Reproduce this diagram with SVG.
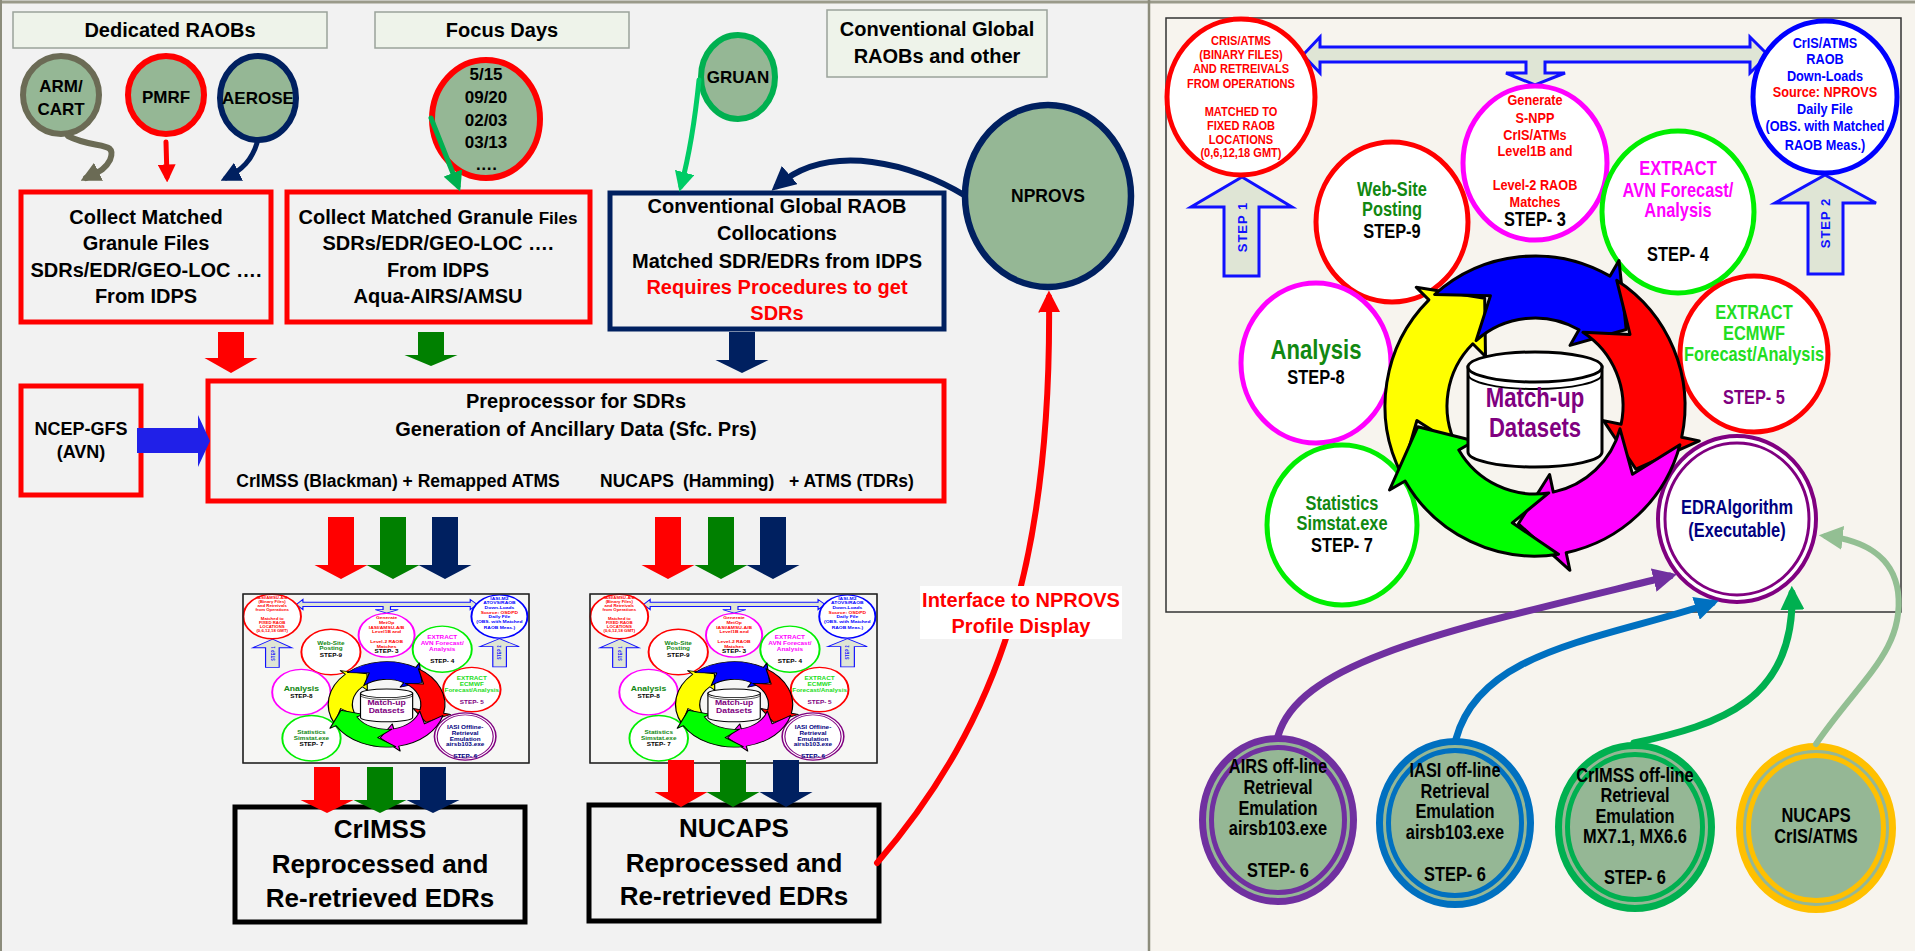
<svg xmlns="http://www.w3.org/2000/svg" xmlns:xlink="http://www.w3.org/1999/xlink" width="1915" height="951" viewBox="0 0 1915 951">
<style>
.t{font-family:"Liberation Sans",Arial,sans-serif;font-weight:bold;text-anchor:middle;fill:#000}
.s{font-family:"Liberation Sans",Arial,sans-serif;font-weight:bold;text-anchor:start;fill:#000}
.hdr{fill:#eef3ea;stroke:#9aa39a;stroke-width:1.5}
.sage{fill:#95b795}
.rbox{fill:none;stroke:#ff0000;stroke-width:5}
.ell{fill:#ffffff;stroke-width:5}
.ring{stroke:#000;stroke-width:3;stroke-linejoin:round}
.stepArr{fill:#dfe5d5;stroke:#1010ff;stroke-width:3;stroke-linejoin:miter}
.conn{fill:none;stroke-linecap:round}
</style>
<defs>
<marker id="m-gray" viewBox="0 0 10 10" refX="7" refY="5" markerWidth="20" markerHeight="20" markerUnits="userSpaceOnUse" orient="auto"><path d="M0,0 L10,5 L0,10 z" fill="#6b6b55"/></marker>
<marker id="m-red" viewBox="0 0 10 10" refX="7" refY="5" markerWidth="18" markerHeight="18" markerUnits="userSpaceOnUse" orient="auto"><path d="M0,0 L10,5 L0,10 z" fill="#ff0000"/></marker>
<marker id="m-red2" viewBox="0 0 10 10" refX="7" refY="5" markerWidth="22" markerHeight="22" markerUnits="userSpaceOnUse" orient="auto"><path d="M0,0 L10,5 L0,10 z" fill="#ff0000"/></marker>
<marker id="m-navy" viewBox="0 0 10 10" refX="7" refY="5" markerWidth="20" markerHeight="20" markerUnits="userSpaceOnUse" orient="auto"><path d="M0,0 L10,5 L0,10 z" fill="#002060"/></marker>
<marker id="m-navy2" viewBox="0 0 10 10" refX="7" refY="5" markerWidth="24" markerHeight="24" markerUnits="userSpaceOnUse" orient="auto"><path d="M0,0 L10,5 L0,10 z" fill="#002060"/></marker>
<marker id="m-green" viewBox="0 0 10 10" refX="7" refY="5" markerWidth="20" markerHeight="20" markerUnits="userSpaceOnUse" orient="auto"><path d="M0,0 L10,5 L0,10 z" fill="#00b050"/></marker>
<marker id="m-lgreen" viewBox="0 0 10 10" refX="7" refY="5" markerWidth="20" markerHeight="20" markerUnits="userSpaceOnUse" orient="auto"><path d="M0,0 L10,5 L0,10 z" fill="#00cc66"/></marker>
<marker id="m-green2" viewBox="0 0 10 10" refX="7" refY="5" markerWidth="24" markerHeight="24" markerUnits="userSpaceOnUse" orient="auto"><path d="M0,0 L10,5 L0,10 z" fill="#00b050"/></marker>
<marker id="m-purple" viewBox="0 0 10 10" refX="7" refY="5" markerWidth="24" markerHeight="24" markerUnits="userSpaceOnUse" orient="auto"><path d="M0,0 L10,5 L0,10 z" fill="#7030a0"/></marker>
<marker id="m-blue" viewBox="0 0 10 10" refX="7" refY="5" markerWidth="24" markerHeight="24" markerUnits="userSpaceOnUse" orient="auto"><path d="M0,0 L10,5 L0,10 z" fill="#0070c0"/></marker>
<marker id="m-sage" viewBox="0 0 10 10" refX="7" refY="5" markerWidth="24" markerHeight="24" markerUnits="userSpaceOnUse" orient="auto"><path d="M0,0 L10,5 L0,10 z" fill="#93bf93"/></marker>
</defs>

<!-- backgrounds -->
<rect x="0" y="0" width="1150" height="951" fill="#f2f2f2"/>
<rect x="1150" y="0" width="765" height="951" fill="#f7f4ee"/>
<line x1="0" y1="2" x2="1915" y2="2" stroke="#9a9a8a" stroke-width="3"/>
<line x1="1" y1="0" x2="1" y2="951" stroke="#8c8c7c" stroke-width="2"/>
<line x1="1149" y1="0" x2="1149" y2="951" stroke="#8c8c7c" stroke-width="2.5"/>

<!-- ===== LEFT PANEL ===== -->
<g id="hdr-dedicated"><rect x="13" y="12" width="314" height="36" class="hdr"/><text x="170" y="37" class="t" font-size="20">Dedicated RAOBs</text></g>
<g id="hdr-focus"><rect x="375" y="12" width="254" height="36" class="hdr"/><text x="502" y="37" class="t" font-size="20">Focus Days</text></g>
<g id="hdr-conv"><rect x="827" y="10" width="220" height="67" class="hdr"/><text class="t" font-size="20"><tspan x="937" y="36">Conventional Global</tspan><tspan x="937" y="63">RAOBs and other</tspan></text></g>

<g id="armcart"><ellipse cx="61" cy="95" rx="38" ry="39" class="sage" stroke="#6b6b55" stroke-width="6"/><text class="t" font-size="17"><tspan x="61" y="92">ARM/</tspan><tspan x="61" y="115">CART</tspan></text></g>
<g id="pmrf"><ellipse cx="166" cy="95" rx="38" ry="39" class="sage" stroke="#ff0000" stroke-width="6"/><text x="166" y="103" class="t" font-size="17">PMRF</text></g>
<g id="aerose"><ellipse cx="258" cy="98" rx="38" ry="42" class="sage" stroke="#002060" stroke-width="6"/><text x="258" y="104" class="t" font-size="17">AEROSE</text></g>
<g id="focusdays"><ellipse cx="486" cy="119" rx="54" ry="59" class="sage" stroke="#ff0000" stroke-width="6"/><text class="t" font-size="17"><tspan x="486" y="80">5/15</tspan><tspan x="486" y="103">09/20</tspan><tspan x="486" y="126">02/03</tspan><tspan x="486" y="148">03/13</tspan><tspan x="486" y="170">….</tspan></text></g>
<g id="gruan"><ellipse cx="738" cy="77" rx="37" ry="42" class="sage" stroke="#00b050" stroke-width="6"/><text x="738" y="83" class="t" font-size="17">GRUAN</text></g>
<g id="nprovs"><ellipse cx="1048" cy="196" rx="83" ry="91" class="sage" stroke="#002060" stroke-width="6.5"/><text x="1048" y="202" class="t" font-size="17.5">NPROVS</text></g>

<g id="collect1"><rect x="21" y="192" width="250" height="130" class="rbox"/><text class="t" font-size="20"><tspan x="146" y="224">Collect Matched</tspan><tspan x="146" y="250">Granule Files</tspan><tspan x="146" y="277">SDRs/EDR/GEO-LOC ….</tspan><tspan x="146" y="303">From IDPS</tspan></text></g>
<g id="collect2"><rect x="287" y="192" width="303" height="130" class="rbox"/><text class="t" font-size="20"><tspan x="438" y="224">Collect Matched Granule <tspan font-size="17">Files</tspan></tspan><tspan x="438" y="250">SDRs/EDR/GEO-LOC ….</tspan><tspan x="438" y="277">From IDPS</tspan><tspan x="438" y="303">Aqua-AIRS/AMSU</tspan></text></g>
<g id="conventional"><rect x="610" y="193" width="334" height="136" fill="none" stroke="#002060" stroke-width="5"/><text class="t" font-size="20"><tspan x="777" y="213">Conventional Global RAOB</tspan><tspan x="777" y="240">Collocations</tspan><tspan x="777" y="268">Matched SDR/EDRs from IDPS</tspan><tspan x="777" y="294" fill="#ff0000">Requires Procedures to get</tspan><tspan x="777" y="320" fill="#ff0000">SDRs</tspan></text></g>

<g id="ncep"><rect x="21" y="386" width="120" height="109" class="rbox"/><text class="t" font-size="18"><tspan x="81" y="435">NCEP-GFS</tspan><tspan x="81" y="458">(AVN)</tspan></text></g>
<g id="preproc"><rect x="208" y="381" width="736" height="120" class="rbox"/><text class="t" font-size="20"><tspan x="576" y="408">Preprocessor for SDRs</tspan><tspan x="576" y="436">Generation of Ancillary Data (Sfc. Prs)</tspan></text><text x="398" y="487" class="t" font-size="17.5">CrIMSS (Blackman) + Remapped ATMS</text><text class="s" font-size="17.5"><tspan x="600" y="487">NUCAPS</tspan><tspan x="683" y="487">(Hamming)</tspan><tspan x="789" y="487">+ ATMS (TDRs)</tspan></text></g>

<g id="crimss-out"><rect x="235" y="807" width="290" height="115" fill="#f2f2f2" stroke="#000" stroke-width="5"/><text class="t" font-size="26"><tspan x="380" y="838">CrIMSS</tspan><tspan x="380" y="873">Reprocessed and</tspan><tspan x="380" y="907">Re-retrieved EDRs</tspan></text></g>
<g id="nucaps-out"><rect x="589" y="805" width="290" height="116" fill="#f2f2f2" stroke="#000" stroke-width="5"/><text class="t" font-size="26"><tspan x="734" y="837">NUCAPS</tspan><tspan x="734" y="872">Reprocessed and</tspan><tspan x="734" y="905">Re-retrieved EDRs</tspan></text></g>

<!-- ===== RIGHT PANEL: cycle ===== -->
<g id="cycle-common">
  <rect x="1166" y="18" width="735" height="594" fill="none" stroke="#333" stroke-width="1.5"/>
  <g id="dbl-arrow"><path class="stepArr" d="M1303,55 L1320,37 L1320,47 L1750,47 L1750,37 L1768,55 L1750,73 L1750,62 L1545,62 L1545,73 L1565,73 L1535,85 L1506,73 L1526,73 L1526,62 L1320,62 L1320,73 Z"/></g>
  <g id="step1-arrow"><path class="stepArr" d="M1242,177 L1292,207 L1259,207 L1259,276 L1224,276 L1224,207 L1191,207 Z"/><text transform="translate(1247,227) rotate(-90)" class="t" font-size="13" letter-spacing="1" style="fill:#1010ff">STEP 1</text></g>
  <g id="step2-arrow"><path class="stepArr" d="M1825,175 L1876,203 L1843,203 L1843,274 L1808,274 L1808,203 L1775,203 Z"/><text transform="translate(1830,223) rotate(-90)" class="t" font-size="13" letter-spacing="1" style="fill:#1010ff">STEP 2</text></g>
  <g id="src-ops"><ellipse cx="1241" cy="97" rx="74" ry="78" class="ell" stroke="#ff0000"/></g>
  <g id="src-raob"><ellipse cx="1825" cy="97" rx="72" ry="76" class="ell" stroke="#0000ff"/></g>
  <g id="step3"><ellipse cx="1535" cy="163" rx="72" ry="77" class="ell" stroke="#ff00ff"/></g>
  <g id="step9"><ellipse cx="1392" cy="222" rx="76" ry="80" class="ell" stroke="#ff0000"/><text class="t" font-size="20" transform="matrix(0.82 0 0 1 250.56 0)"><tspan x="1392" y="196" style="fill:#118811">Web-Site</tspan><tspan x="1392" y="216" style="fill:#118811">Posting</tspan><tspan x="1392" y="238">STEP-9</tspan></text></g>
  <g id="step4"><ellipse cx="1678" cy="212" rx="76" ry="81" class="ell" stroke="#00ee00"/><text class="t" font-size="20" transform="matrix(0.82 0 0 1 302.04 0)"><tspan x="1678" y="175" style="fill:#ff00ff">EXTRACT</tspan><tspan x="1678" y="197" style="fill:#ff00ff">AVN Forecast/</tspan><tspan x="1678" y="217" style="fill:#ff00ff">Analysis</tspan><tspan x="1678" y="261">STEP- 4</tspan></text></g>
  <g id="step5"><ellipse cx="1754" cy="354" rx="74" ry="78" class="ell" stroke="#ff0000"/><text class="t" font-size="20" transform="matrix(0.82 0 0 1 315.72 0)"><tspan x="1754" y="319" style="fill:#22dd22">EXTRACT</tspan><tspan x="1754" y="340" style="fill:#22dd22">ECMWF</tspan><tspan x="1754" y="361" style="fill:#22dd22">Forecast/Analysis</tspan><tspan x="1754" y="404" style="fill:#800080">STEP- 5</tspan></text></g>
  <g id="step8"><ellipse cx="1316" cy="363" rx="75" ry="80" class="ell" stroke="#ff00ff"/><text class="t" transform="matrix(0.82 0 0 1 236.88 0)"><tspan x="1316" y="359" font-size="27" style="fill:#118811">Analysis</tspan><tspan x="1316" y="384" font-size="20">STEP-8</tspan></text></g>
  <g id="step7"><ellipse cx="1342" cy="525" rx="75" ry="80" class="ell" stroke="#00ee00"/><text class="t" font-size="20" transform="matrix(0.82 0 0 1 241.56 0)"><tspan x="1342" y="510" style="fill:#118811">Statistics</tspan><tspan x="1342" y="530" style="fill:#118811">Simstat.exe</tspan><tspan x="1342" y="552">STEP- 7</tspan></text></g>
  <g id="step6-edr"><ellipse cx="1737" cy="519" rx="79" ry="83" fill="#fff" stroke="#800080" stroke-width="4"/><ellipse cx="1737" cy="519" rx="72" ry="76" fill="none" stroke="#800080" stroke-width="3"/></g>
  <g id="cycle-ring">
    <path class="ring" fill="#ffff00" d="M1401.4,474.1 A150,150 0 0 1 1428.9,299.9 L1416.2,287.2 L1484.7,298.2 L1485.5,356.5 L1472.8,343.8 A88,88 0 0 0 1456.6,446.0 L1416.9,420.5 Z"/>
    <path class="ring" fill="#0000ff" d="M1434.6,294.5 A150,150 0 0 1 1610,276.1 L1619,260.5 L1626.2,329.5 L1570,345.4 L1579,329.8 A88,88 0 0 0 1476.1,340.6 L1490.4,295.7 Z"/>
    <path class="ring" fill="#ff0000" d="M1616.7,280.2 A150,150 0 0 1 1681.7,437.2 L1699.3,440.9 L1635.9,469.1 L1603.5,420.6 L1621.1,424.3 A88,88 0 0 0 1582.9,332.2 L1630,334.4 Z"/>
    <path class="ring" fill="#ff00ff" d="M1679.9,444.8 A150,150 0 0 1 1566.2,552.7 L1569.9,570.3 L1518.4,523.8 L1549.6,474.5 L1553.3,492.1 A88,88 0 0 0 1620,428.8 L1632.5,474.3 Z"/>
    <path class="ring" fill="#00ff00" d="M1558.5,554.2 A150,150 0 0 1 1405.1,481 L1389.5,490 L1417.8,426.7 L1474.4,441 L1458.8,450 A88,88 0 0 0 1548.8,492.9 L1512.3,522.8 Z"/>
  </g>
  <g id="matchup-db">
    <path d="M1468,367 L1468,452 A67,15 0 0 0 1602,452 L1602,367 Z" fill="#fff" stroke="#000" stroke-width="3"/>
    <ellipse cx="1535" cy="367" rx="67" ry="15" fill="#fff" stroke="#000" stroke-width="3"/>
    <path d="M1468,374 A67,15 0 0 0 1602,374" fill="none" stroke="#000" stroke-width="2"/>
    <text class="t" font-size="27" transform="matrix(0.82 0 0 1 276.3 0)"><tspan x="1535" y="407" style="fill:#800080">Match-up</tspan><tspan x="1535" y="437" style="fill:#800080">Datasets</tspan></text>
  </g>
</g>

<!-- main right panel specific texts -->
<g id="src-ops-text"><text class="t" font-size="13.5" transform="matrix(0.82 0 0 1 223.38 0)" style="fill:#ff0000"><tspan x="1241" y="45">CRIS/ATMS</tspan><tspan x="1241" y="59">(BINARY FILES)</tspan><tspan x="1241" y="73">AND RETREIVALS</tspan><tspan x="1241" y="88">FROM OPERATIONS</tspan><tspan x="1241" y="116">MATCHED TO</tspan><tspan x="1241" y="130">FIXED RAOB</tspan><tspan x="1241" y="144">LOCATIONS</tspan><tspan x="1241" y="157">(0,6,12,18 GMT)</tspan></text></g>
<g id="src-raob-text"><text class="t" font-size="15.5" transform="matrix(0.82 0 0 1 328.5 0)" style="fill:#0000ff"><tspan x="1825" y="48">CrIS/ATMS</tspan><tspan x="1825" y="64">RAOB</tspan><tspan x="1825" y="81">Down-Loads</tspan><tspan x="1825" y="97" style="fill:#ff0000">Source: NPROVS</tspan><tspan x="1825" y="114">Daily File</tspan><tspan x="1825" y="131">(OBS. with Matched</tspan><tspan x="1825" y="150">RAOB Meas.)</tspan></text></g>
<g id="step3-text"><text class="t" font-size="15.5" transform="matrix(0.82 0 0 1 276.3 0)" style="fill:#ff0000"><tspan x="1535" y="105">Generate</tspan><tspan x="1535" y="123">S-NPP</tspan><tspan x="1535" y="140">CrIS/ATMs</tspan><tspan x="1535" y="156">Level1B and</tspan><tspan x="1535" y="190">Level-2 RAOB</tspan><tspan x="1535" y="207">Matches</tspan><tspan x="1535" y="226" font-size="20" style="fill:#000">STEP- 3</tspan></text></g>
<g id="edr-text"><text class="t" font-size="20" transform="matrix(0.82 0 0 1 312.66 0)" style="fill:#000080"><tspan x="1737" y="514">EDRAlgorithm</tspan><tspan x="1737" y="537">(Executable)</tspan></text></g>

<!-- lower right nodes -->
<g id="airs"><ellipse cx="1278" cy="820" rx="75.5" ry="81.5" class="sage" stroke="#7030a0" stroke-width="7"/><ellipse cx="1278" cy="820" rx="66.5" ry="72.5" fill="none" stroke="#7030a0" stroke-width="5"/><text class="t" font-size="20" transform="matrix(0.82 0 0 1 230.04 0)"><tspan x="1278" y="773">AIRS off-line</tspan><tspan x="1278" y="794">Retrieval</tspan><tspan x="1278" y="815">Emulation</tspan><tspan x="1278" y="835">airsb103.exe</tspan><tspan x="1278" y="877">STEP- 6</tspan></text></g>
<g id="iasi"><ellipse cx="1455" cy="823" rx="75.5" ry="81.5" class="sage" stroke="#0070c0" stroke-width="7"/><ellipse cx="1455" cy="823" rx="66.5" ry="72.5" fill="none" stroke="#0070c0" stroke-width="5"/><text class="t" font-size="20" transform="matrix(0.82 0 0 1 261.9 0)"><tspan x="1455" y="777">IASI off-line</tspan><tspan x="1455" y="798">Retrieval</tspan><tspan x="1455" y="818">Emulation</tspan><tspan x="1455" y="839">airsb103.exe</tspan><tspan x="1455" y="881">STEP- 6</tspan></text></g>
<g id="crimss"><ellipse cx="1635" cy="827" rx="76.5" ry="81.5" class="sage" stroke="#00b050" stroke-width="7"/><ellipse cx="1635" cy="827" rx="67.5" ry="72.5" fill="none" stroke="#00b050" stroke-width="5"/><text class="t" font-size="20" transform="matrix(0.82 0 0 1 294.3 0)"><tspan x="1635" y="782">CrIMSS off-line</tspan><tspan x="1635" y="802">Retrieval</tspan><tspan x="1635" y="823">Emulation</tspan><tspan x="1635" y="843">MX7.1, MX6.6</tspan><tspan x="1635" y="884">STEP- 6</tspan></text></g>
<g id="nucaps"><ellipse cx="1816" cy="828" rx="76.5" ry="81.5" class="sage" stroke="#ffc000" stroke-width="7"/><ellipse cx="1816" cy="828" rx="67.5" ry="72.5" fill="none" stroke="#ffc000" stroke-width="5"/><text class="t" font-size="20" transform="matrix(0.82 0 0 1 326.88 0)"><tspan x="1816" y="822">NUCAPS</tspan><tspan x="1816" y="843">CrIS/ATMS</tspan></text></g>

<!-- thumbnails -->
<g id="thumb-crimss">
  <rect x="243" y="594" width="286" height="169" fill="#f6f6f4"/>
  <g transform="translate(243,594) scale(0.3891,0.2845) translate(-1166,-18)">
    <use xlink:href="#cycle-common" href="#cycle-common"/>
    <text class="t" font-size="13.5" transform="matrix(0.82 0 0 1 223.38 0)" style="fill:#ff0000"><tspan x="1241" y="37">IASI/AMSU-A/B</tspan><tspan x="1241" y="51">(Binary Files)</tspan><tspan x="1241" y="65">and Retreivals</tspan><tspan x="1241" y="79">from Operations</tspan><tspan x="1241" y="109">Matched to</tspan><tspan x="1241" y="123">FIXED RAOB</tspan><tspan x="1241" y="137">LOCATIONS</tspan><tspan x="1241" y="151">(0,6,12,18 GMT)</tspan></text>
    <text class="t" font-size="15.5" transform="matrix(0.82 0 0 1 328.5 0)" style="fill:#0000ff"><tspan x="1825" y="38">IASI-M2</tspan><tspan x="1825" y="54">ATOVS/RAOB</tspan><tspan x="1825" y="71">Down-Loads</tspan><tspan x="1825" y="87" style="fill:#ff0000">Source: OSDPD</tspan><tspan x="1825" y="104">Daily File</tspan><tspan x="1825" y="121">(OBS. with Matched</tspan><tspan x="1825" y="140">RAOB Meas.)</tspan></text>
    <text class="t" font-size="15.5" transform="matrix(0.82 0 0 1 276.3 0)" style="fill:#ff0000"><tspan x="1535" y="105">Generate</tspan><tspan x="1535" y="123">MetOp</tspan><tspan x="1535" y="140">IASI/AMSU-A/B</tspan><tspan x="1535" y="156">Level1B and</tspan><tspan x="1535" y="190">Level-2 RAOB</tspan><tspan x="1535" y="207">Matches</tspan><tspan x="1535" y="226" font-size="20" style="fill:#000">STEP- 3</tspan></text>
    <text class="t" font-size="20" transform="matrix(0.82 0 0 1 312.66 0)" style="fill:#000080"><tspan x="1737" y="492">IASI Offline-</tspan><tspan x="1737" y="512">Retrieval</tspan><tspan x="1737" y="533">Emulation</tspan><tspan x="1737" y="554">airsb103.exe</tspan><tspan x="1737" y="593">STEP- 6</tspan></text>
  </g>
  <rect x="243" y="594" width="286" height="169" fill="none" stroke="#222" stroke-width="1.5"/>
</g>
<g id="thumb-nucaps">
  <rect x="590" y="594" width="287" height="169" fill="#f6f6f4"/>
  <g transform="translate(590,594) scale(0.3905,0.2845) translate(-1166,-18)">
    <use xlink:href="#cycle-common" href="#cycle-common"/>
    <text class="t" font-size="13.5" transform="matrix(0.82 0 0 1 223.38 0)" style="fill:#ff0000"><tspan x="1241" y="37">IASI/AMSU-A/B</tspan><tspan x="1241" y="51">(Binary Files)</tspan><tspan x="1241" y="65">and Retreivals</tspan><tspan x="1241" y="79">from Operations</tspan><tspan x="1241" y="109">Matched to</tspan><tspan x="1241" y="123">FIXED RAOB</tspan><tspan x="1241" y="137">LOCATIONS</tspan><tspan x="1241" y="151">(0,6,12,18 GMT)</tspan></text>
    <text class="t" font-size="15.5" transform="matrix(0.82 0 0 1 328.5 0)" style="fill:#0000ff"><tspan x="1825" y="38">IASI-M2</tspan><tspan x="1825" y="54">ATOVS/RAOB</tspan><tspan x="1825" y="71">Down-Loads</tspan><tspan x="1825" y="87" style="fill:#ff0000">Source: OSDPD</tspan><tspan x="1825" y="104">Daily File</tspan><tspan x="1825" y="121">(OBS. with Matched</tspan><tspan x="1825" y="140">RAOB Meas.)</tspan></text>
    <text class="t" font-size="15.5" transform="matrix(0.82 0 0 1 276.3 0)" style="fill:#ff0000"><tspan x="1535" y="105">Generate</tspan><tspan x="1535" y="123">MetOp</tspan><tspan x="1535" y="140">IASI/AMSU-A/B</tspan><tspan x="1535" y="156">Level1B and</tspan><tspan x="1535" y="190">Level-2 RAOB</tspan><tspan x="1535" y="207">Matches</tspan><tspan x="1535" y="226" font-size="20" style="fill:#000">STEP- 3</tspan></text>
    <text class="t" font-size="20" transform="matrix(0.82 0 0 1 312.66 0)" style="fill:#000080"><tspan x="1737" y="492">IASI Offline-</tspan><tspan x="1737" y="512">Retrieval</tspan><tspan x="1737" y="533">Emulation</tspan><tspan x="1737" y="554">airsb103.exe</tspan><tspan x="1737" y="593">STEP- 6</tspan></text>
  </g>
  <rect x="590" y="594" width="287" height="169" fill="none" stroke="#222" stroke-width="1.5"/>
</g>

<!-- ===== CONNECTORS ===== -->
<g id="connectors">
  <path class="conn" d="M68,136 C 95,150 118,140 110,160 C 105,170 98,172 86,178" stroke="#6b6b55" stroke-width="6" marker-end="url(#m-gray)"/>
  <path class="conn" d="M166,142 L167,177" stroke="#ff0000" stroke-width="5" marker-end="url(#m-red)"/>
  <path class="conn" d="M257,143 C 252,160 242,170 226,178" stroke="#002060" stroke-width="5" marker-end="url(#m-navy)"/>
  <path class="conn" d="M431,118 L458,186" stroke="#00b050" stroke-width="5" marker-end="url(#m-green)"/>
  <path class="conn" d="M699,80 C 694,130 688,160 681,186" stroke="#00cc66" stroke-width="5" marker-end="url(#m-lgreen)"/>
  <path class="conn" d="M964,195 C 915,165 830,140 777,186" stroke="#002060" stroke-width="6" marker-end="url(#m-navy2)"/>
  <path class="conn" d="M877,863 C 1000,720 1052,560 1049,297" stroke="#ff0000" stroke-width="6" marker-end="url(#m-red2)"/>
  <path d="M137,428 L198,428 L198,415 L210,441 L198,467 L198,453 L137,453 Z" fill="#2020e8"/>
  <!-- block arrows top -->
  <path d="M218,332 H244 V358 H257.5 L231,373 L204.5,358 H218 Z" fill="#ff0000"/>
  <path d="M418,332 H444 V355 H457.5 L431,366 L404.5,355 H418 Z" fill="#008000"/>
  <path d="M729,332 H755 V360 H768.5 L742,373 L715.5,360 H729 Z" fill="#002060"/>
  <!-- block arrows middle -->
  <path d="M328,517 H354 V565 H367.5 L341,579 L314.5,565 H328 Z" fill="#ff0000"/>
  <path d="M380,517 H406 V565 H419.5 L393,579 L366.5,565 H380 Z" fill="#008000"/>
  <path d="M432,517 H458 V565 H471.5 L445,579 L418.5,565 H432 Z" fill="#002060"/>
  <path d="M655,517 H681 V565 H694.5 L668,579 L641.5,565 H655 Z" fill="#ff0000"/>
  <path d="M708,517 H734 V565 H747.5 L721,579 L694.5,565 H708 Z" fill="#008000"/>
  <path d="M760,517 H786 V565 H799.5 L773,579 L746.5,565 H760 Z" fill="#002060"/>
  <!-- block arrows bottom -->
  <path d="M314,767 H340 V800 H353.5 L327,813 L300.5,800 H314 Z" fill="#ff0000"/>
  <path d="M367,767 H393 V800 H406.5 L380,813 L353.5,800 H367 Z" fill="#008000"/>
  <path d="M420,767 H446 V800 H459.5 L433,813 L406.5,800 H420 Z" fill="#002060"/>
  <path d="M668,760 H694 V792 H707.5 L681,807 L654.5,792 H668 Z" fill="#ff0000"/>
  <path d="M720,760 H746 V792 H759.5 L733,807 L706.5,792 H720 Z" fill="#008000"/>
  <path d="M773,760 H799 V792 H812.5 L786,807 L759.5,792 H773 Z" fill="#002060"/>
  <!-- right lower curves -->
  <path class="conn" d="M1278,736 C 1300,660 1450,630 1670,576" stroke="#7030a0" stroke-width="7" marker-end="url(#m-purple)"/>
  <path class="conn" d="M1456,739 C 1480,650 1600,640 1712,603" stroke="#0070c0" stroke-width="7" marker-end="url(#m-blue)"/>
  <path class="conn" d="M1634,743 C 1720,725 1795,700 1792,593" stroke="#00b050" stroke-width="7" marker-end="url(#m-green2)"/>
  <path class="conn" d="M1816,744 C 1860,680 1905,650 1898,592 C 1893,555 1862,540 1826,536" stroke="#93bf93" stroke-width="6" marker-end="url(#m-sage)"/>
</g>

<g id="interface-label"><rect x="920" y="586" width="202" height="53" fill="#ffffff"/><text class="t" font-size="20" style="fill:#ff0000"><tspan x="1021" y="607">Interface to NPROVS</tspan><tspan x="1021" y="633">Profile Display</tspan></text></g>
</svg>
